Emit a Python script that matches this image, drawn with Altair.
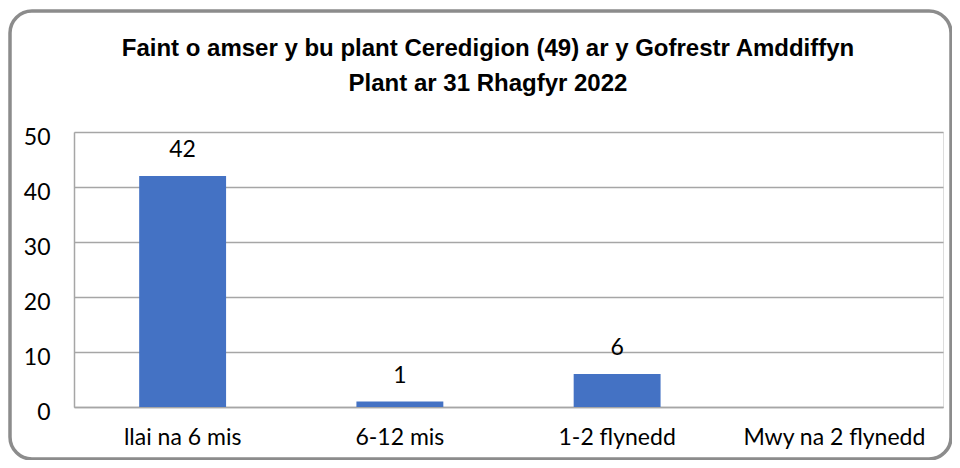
import altair as alt
import pandas as pd

categories = ["llai na 6 mis", "6-12 mis", "1-2 flynedd", "Mwy na 2 flynedd"]
values = [42, 1, 6, 0]
title_lines = ["Faint o amser y bu plant Ceredigion (49) ar y Gofrestr Amddiffyn",
               "Plant ar 31 Rhagfyr 2022"]

df = pd.DataFrame({"cat": categories, "val": values})

LABEL_FONT = "Lato"
TITLE_FONT = "Liberation Sans Narrow, Arial Narrow, Liberation Sans"

x_enc = alt.X("cat:N", sort=categories, title=None,
              scale=alt.Scale(paddingInner=0.6, paddingOuter=0.3),
              axis=alt.Axis(labelAngle=0, labelFont=LABEL_FONT, labelFontSize=23,
                            labelColor="#000000", labelPadding=30, labelBaseline="middle",
                            labelLimit=400, ticks=False, domainColor="#a6a6a6",
                            domainWidth=1.5, grid=False))
y_enc = alt.Y("val:Q", title=None,
              scale=alt.Scale(domain=[0, 50], nice=False),
              axis=alt.Axis(values=[0, 10, 20, 30, 40, 50], labelFont=LABEL_FONT,
                            labelFontSize=23, labelColor="#000000", labelPadding=24,
                            labelOffset=5, ticks=False, domainColor="#a6a6a6",
                            domainWidth=1.5, gridColor="#a6a6a6", gridWidth=1.5))

one = pd.DataFrame({"f": [0]})

frame = alt.Chart(one).mark_rect(
    fill="transparent", stroke="#8c8c8c", strokeWidth=3.5, cornerRadius=22
).encode(x=alt.value(-64), x2=alt.value(877), y=alt.value(-121), y2=alt.value(327))

title = alt.Chart(one).mark_text(
    text=title_lines, font=TITLE_FONT, fontSize=24, fontWeight="bold",
    color="#000000", lineHeight=35, baseline="alphabetic", align="center"
).encode(x=alt.value(414), y=alt.value(-76))

bars = alt.Chart(df).mark_bar(color="#4472C4").encode(x=x_enc, y=y_enc)

labels = alt.Chart(df).transform_filter("datum.val > 0").mark_text(
    font=LABEL_FONT, fontSize=23, color="#000000", baseline="middle", dy=-26
).encode(x=alt.X("cat:N", sort=categories), y="val:Q", text="val:Q")

chart = alt.layer(bars, labels, frame, title).properties(
    width=869, height=275,
    autosize=alt.AutoSizeParams(type="none"),
    padding={"left": 66, "top": 124, "right": 9, "bottom": 53},
).configure_view(stroke=None).configure(background="white")

chart.save("out.html", embed_options={"renderer": "svg", "actions": False})
